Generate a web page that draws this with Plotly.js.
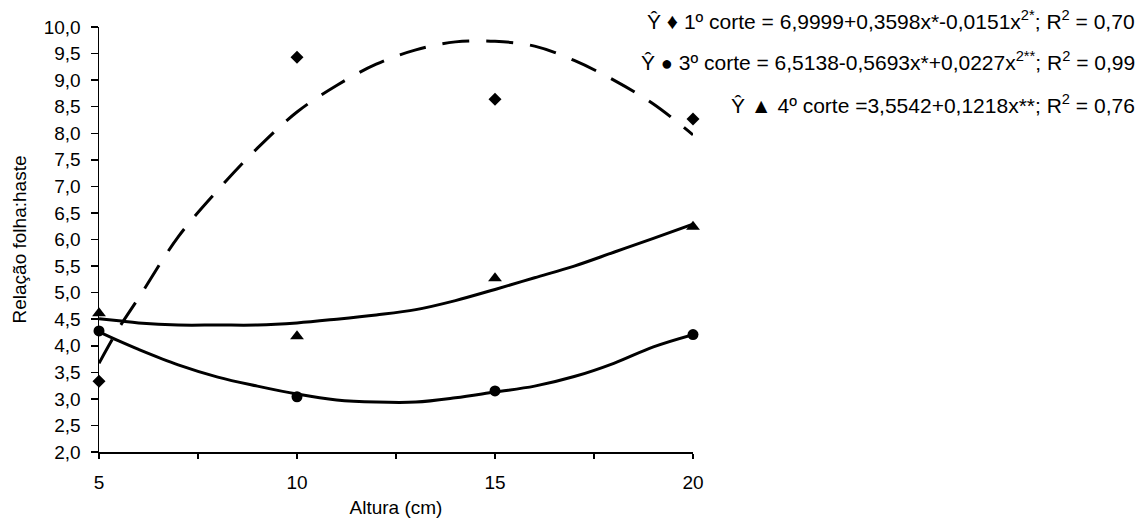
<!DOCTYPE html>
<html>
<head>
<meta charset="utf-8">
<script src="https://cdn.plot.ly/plotly-3.0.1.min.js"></script>
<style>
html,body{margin:0;padding:0;background:#fff;}
#chart{width:1142px;height:521px;}
</style>
</head>
<body>
<div id="chart"></div>
<script>
// Observed points
const alturas = [5, 10, 15, 20];
const corte1 = [3.33, 9.43, 8.64, 8.27];
const corte3 = [4.28, 3.04, 3.15, 4.21];
const corte4 = [4.61, 4.18, 5.27, 6.24];

// Fitted curves, values
const curveX = [5, 5.5, 6, 7, 8, 9, 10, 11, 12, 13, 14, 15, 16, 17, 18, 19, 20];
const fit1 = [3.67, 4.33, 4.90, 6.05, 6.93, 7.72, 8.40, 8.90, 9.30, 9.57, 9.72, 9.73, 9.64, 9.37, 9.00, 8.55, 7.97];
const fit3 = [4.26, 4.09, 3.93, 3.64, 3.41, 3.24, 3.09, 2.98, 2.94, 2.94, 3.02, 3.13, 3.24, 3.42, 3.67, 3.98, 4.21];
const fit4 = [4.51, 4.47, 4.43, 4.39, 4.39, 4.39, 4.43, 4.50, 4.58, 4.68, 4.85, 5.06, 5.28, 5.50, 5.76, 6.02, 6.29];

// Ticks
const yTickVals = [2, 2.5, 3, 3.5, 4, 4.5, 5, 5.5, 6, 6.5, 7, 7.5, 8, 8.5, 9, 9.5, 10];
const yTickText = ['2,0','2,5','3,0','3,5','4,0','4,5','5,0','5,5','6,0','6,5','7,0','7,5','8,0','8,5','9,0','9,5','10,0'];
const xTickVals = [5, 10, 15, 20];
const xTickText = ['5', '10', '15', '20'];
const xMinorVals = [7.5, 12.5, 17.5];

// Equation labels
const eqLabels = [
  'Ŷ <span style="font-size:22px">♦</span> 1º corte = 6,9999+0,3598x*-0,0151x<sup>2*</sup>; R<sup>2</sup> = 0,70',
  'Ŷ <span style="font-size:20px">●</span> 3º corte = 6,5138-0,5693x*+0,0227x<sup>2**</sup>; R<sup>2</sup> = 0,99',
  'Ŷ ▲ 4º corte =3,5542+0,1218x**; R<sup>2</sup> = 0,76'
];
const eqY = [20, 61, 104];

const FONT = 'Liberation Sans, Arial, sans-serif';

const traces = [
  {x: curveX, y: fit1, mode: 'lines', line: {color: '#000', width: 3, dash: '27px,17px', shape: 'spline'}, hoverinfo: 'skip'},
  {x: curveX, y: fit3, mode: 'lines', line: {color: '#000', width: 3, shape: 'spline'}, hoverinfo: 'skip'},
  {x: curveX, y: fit4, mode: 'lines', line: {color: '#000', width: 3, shape: 'spline'}, hoverinfo: 'skip'},
  {x: alturas, y: corte1, mode: 'markers', cliponaxis: false, marker: {symbol: 'diamond', size: 10, color: '#000'}},
  {x: alturas, y: corte3, mode: 'markers', cliponaxis: false, marker: {symbol: 'circle', size: 11, color: '#000'}},
  {x: alturas, y: corte4, mode: 'markers', cliponaxis: false, marker: {symbol: 'triangle-up', size: 12, color: '#000'}}
];

const W = 1142, H = 521, L = 99, R = 449, T = 27, B = 69;
const plotW = W - L - R, plotH = H - T - B;

const annotations = eqLabels.map((t, i) => ({
  text: t,
  xref: 'paper', yref: 'paper',
  x: (1137 - L) / plotW,
  y: 1 - (eqY[i] - T) / plotH,
  xanchor: 'right', yanchor: 'middle',
  showarrow: false,
  font: {family: FONT, size: 21, color: '#000'}
}));

const layout = {
  width: W, height: H,
  margin: {l: L, r: R, t: T, b: B, pad: 0},
  paper_bgcolor: '#fff', plot_bgcolor: '#fff',
  showlegend: false,
  font: {family: FONT, color: '#000'},
  xaxis: {
    range: [5, 20],
    tickvals: xTickVals, ticktext: xTickText,
    ticks: 'outside', ticklen: 5, tickwidth: 1.5, tickcolor: '#000',
    minor: {tickvals: xMinorVals, ticks: 'outside', ticklen: 5, tickwidth: 1.5, tickcolor: '#000', showgrid: false},
    ticklabelstandoff: 8,
    showline: true, linecolor: '#000', linewidth: 1.5,
    showgrid: false, zeroline: false,
    tickfont: {family: FONT, size: 19, color: '#000'},
    title: {text: 'Altura (cm)', font: {family: FONT, size: 19, color: '#000'}, standoff: 8}
  },
  yaxis: {
    range: [2, 10],
    tickvals: yTickVals, ticktext: yTickText,
    ticks: 'outside', ticklen: 7, tickwidth: 1.5, tickcolor: '#000',
    ticklabelstandoff: 6,
    showline: true, linecolor: '#000', linewidth: 1.5,
    showgrid: false, zeroline: false,
    tickfont: {family: FONT, size: 19, color: '#000'},
    title: {text: 'Relação folha:haste', font: {family: FONT, size: 19, color: '#000'}, standoff: 12}
  },
  annotations: annotations
};

Plotly.newPlot('chart', traces, layout, {displayModeBar: false, staticPlot: true});
</script>
</body>
</html>
